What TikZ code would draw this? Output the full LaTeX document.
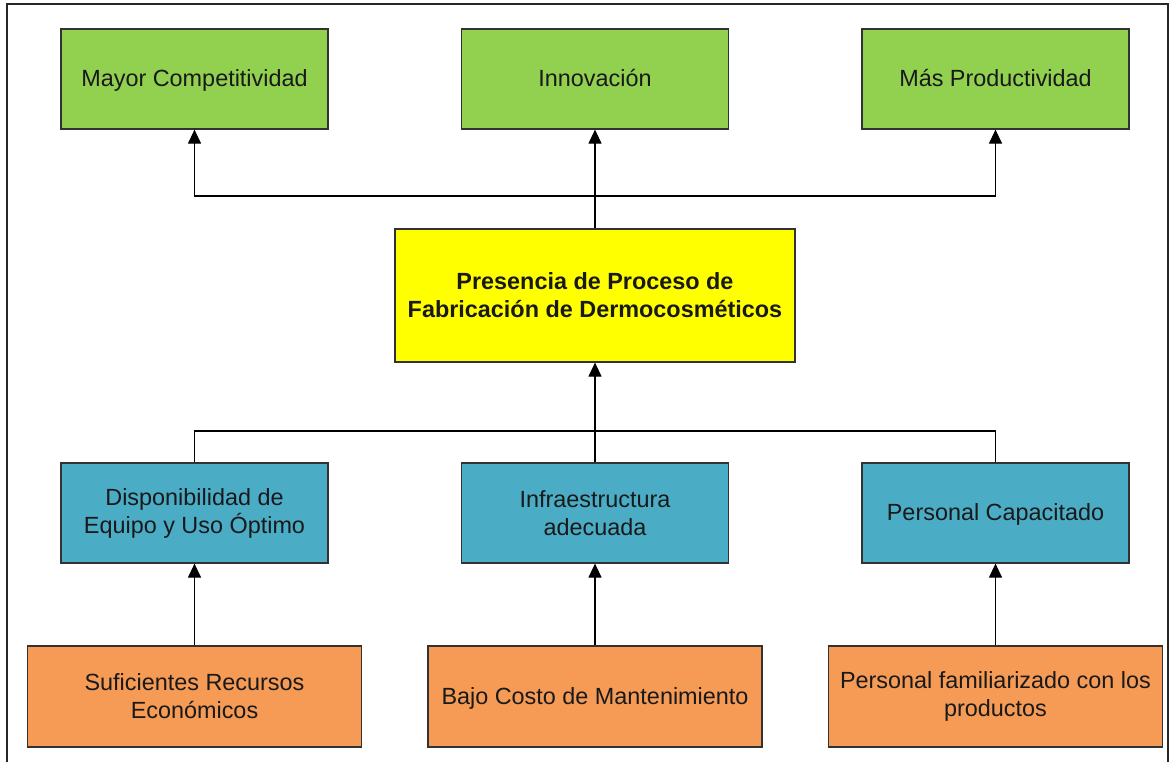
\documentclass[tikz,border=0pt]{standalone}
\usepackage{fontspec}
\setmainfont{Liberation Sans}
\usetikzlibrary{arrows.meta}
\definecolor{gfill}{RGB}{146,208,80}
\definecolor{yfill}{RGB}{255,255,0}
\definecolor{bfill}{RGB}{75,172,198}
\definecolor{ofill}{RGB}{245,155,85}
\definecolor{edge}{RGB}{50,50,50}
\begin{document}
\begin{tikzpicture}[x=1pt,y=-1pt,
  box/.style={draw=edge,line width=1.2pt,inner sep=0pt,align=center,
    font=\fontsize{23.4}{28}\selectfont,text=black!90},
  one/.style={text height=20pt,text depth=5pt},
  gbox/.style={box,fill=gfill,minimum width=267pt,minimum height=100pt},
  bbox/.style={box,fill=bfill,minimum width=267pt,minimum height=100pt},
  obox/.style={box,fill=ofill,minimum width=334pt,minimum height=101pt},
  ybox/.style={box,fill=yfill,minimum width=400pt,minimum height=133pt,
    font=\fontsize{23.4}{28}\selectfont\bfseries},
  arr/.style={line width=1.2pt,-{Triangle[width=13pt,length=14pt]}},
  lin/.style={line width=1.2pt}]
\useasboundingbox (0,0) rectangle (1173,761);
\draw[line width=1.8pt,draw=black!85] (7,770) -- (7,4) -- (1168,4) -- (1168,770);

\node[gbox,one] (g1) at (194.5,79) {Mayor Competitividad};
\node[gbox,one] (g2) at (595,79) {Innovación};
\node[gbox,one] (g3) at (995.5,79) {Más Productividad};

\node[ybox] (y) at (595,295.5) {Presencia de Proceso de\\Fabricación de Dermocosméticos};

\node[bbox] (b1) at (194.5,513) {Disponibilidad de\\Equipo y Uso Óptimo};
\node[bbox] (b2) at (595,513) {Infraestructura\\adecuada};
\node[bbox,one] (b3) at (995.5,513) {Personal Capacitado};

\node[obox] (o1) at (194.5,696.5) {Suficientes Recursos\\Económicos};
\node[obox,one] (o2) at (595,696.5) {Bajo Costo de Mantenimiento};
\node[obox] (o3) at (995.5,696.5) {Personal familiarizado con los\\productos};

\coordinate (topbus) at (595,196);
\coordinate (botbus) at (595,431);

\draw[arr] (y.north) -- (g2.south);
\draw[arr] (y.north) -- (y.north |- topbus) -| (g1.south);
\draw[arr] (y.north) -- (y.north |- topbus) -| (g3.south);

\draw[arr] (b2.north) -- (y.south);
\draw[lin] (b1.north) -- (b1.north |- botbus) -| (b3.north);

\draw[arr] (o1.north) -- (b1.south);
\draw[arr] (o2.north) -- (b2.south);
\draw[arr] (o3.north) -- (b3.south);
\end{tikzpicture}
\end{document}
